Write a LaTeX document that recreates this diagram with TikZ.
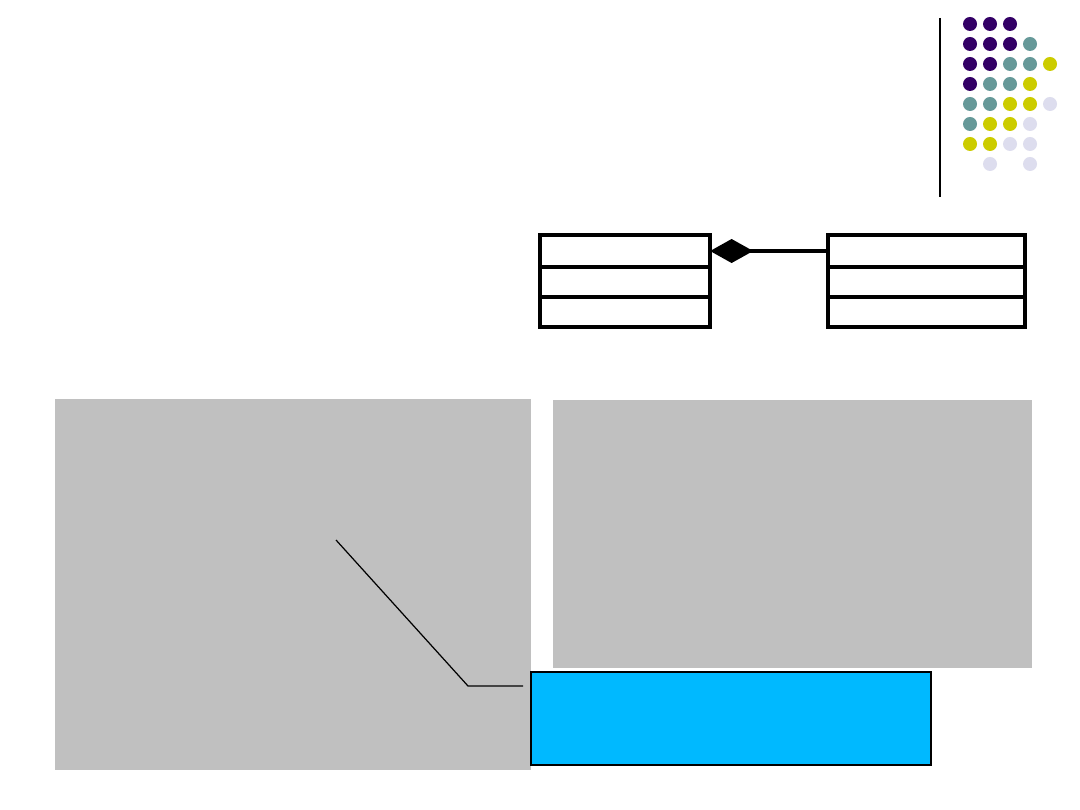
\documentclass[tikz,border=0pt]{standalone}
\usepackage{xcolor}
\usepackage{tikz}
\usetikzlibrary{arrows.meta, positioning}
\definecolor{dotpurple}{RGB}{51,0,102}
\definecolor{dotteal}{RGB}{102,153,153}
\definecolor{dotyellow}{RGB}{204,204,0}
\definecolor{dotlilac}{RGB}{221,221,238}
\definecolor{panelgray}{RGB}{192,192,192}
\definecolor{notecyan}{RGB}{0,185,255}
\tikzstyle{classpart} = [draw, rectangle, line width=1.1pt, outer sep=0pt, inner sep=0pt, minimum height=0.3cm]
\tikzstyle{panel} = [rectangle, fill=panelgray, inner sep=0pt, outer sep=0pt, anchor=north west]
\tikzstyle{note} = [draw, rectangle, fill=notecyan, line width=0.5pt, inner sep=0pt, outer sep=0pt, anchor=north west]
\tikzstyle{compose} = [draw, line width=1pt, {Diamond[length=0.43cm, width=0.24cm, fill=black]}-]
\tikzstyle{callout} = [draw, line width=0.35pt]

\begin{document}
\begin{tikzpicture}[x=0.01cm, y=-0.01cm]
    \useasboundingbox (0,0) rectangle (1080,810);
    \fill[white] (0,0) rectangle (1080,810);

    % corner decoration
    \draw[line width=0.35pt] (940,18) -- (940,197);
    \foreach \x/\y/\c in {970/24/dotpurple, 990/24/dotpurple, 1010/24/dotpurple,
        970/44/dotpurple, 990/44/dotpurple, 1010/44/dotpurple, 1030/44/dotteal,
        970/64/dotpurple, 990/64/dotpurple, 1010/64/dotteal, 1030/64/dotteal, 1050/64/dotyellow,
        970/84/dotpurple, 990/84/dotteal, 1010/84/dotteal, 1030/84/dotyellow,
        970/104/dotteal, 990/104/dotteal, 1010/104/dotyellow, 1030/104/dotyellow, 1050/104/dotlilac,
        970/124/dotteal, 990/124/dotyellow, 1010/124/dotyellow, 1030/124/dotlilac,
        970/144/dotyellow, 990/144/dotyellow, 1010/144/dotlilac, 1030/144/dotlilac,
        990/164/dotlilac, 1030/164/dotlilac}
        \fill[\c] (\x,\y) circle (0.07cm);

    % classes
    \node (whole) [classpart, anchor=north west, minimum width=1.7cm, minimum height=0.32cm] at (540,235) {};
    \node (wholeattr) [classpart, below=0pt of whole, minimum width=1.7cm] {};
    \node (wholeops) [classpart, below=0pt of wholeattr, minimum width=1.7cm] {};

    \node (part) [classpart, anchor=north west, minimum width=1.97cm, minimum height=0.32cm] at (828,235) {};
    \node (partattr) [classpart, below=0pt of part, minimum width=1.97cm] {};
    \node (partops) [classpart, below=0pt of partattr, minimum width=1.97cm] {};

    \draw [compose] (whole) -- (part);

    % panels
    \node (leftpanel) [panel, minimum width=4.76cm, minimum height=3.71cm] at (55,399) {};
    \node (rightpanel) [panel, minimum width=4.79cm, minimum height=2.68cm] at (553,400) {};
    \node (remark) [note, minimum width=4.0cm, minimum height=0.93cm] at (531,672) {};

    \coordinate (pointer) at (336,540);
    \coordinate (elbow) at (468,686);
    \coordinate (lead) at (523,686);
    \draw [callout] (pointer) -- (elbow) -- (lead);
\end{tikzpicture}
\end{document}
